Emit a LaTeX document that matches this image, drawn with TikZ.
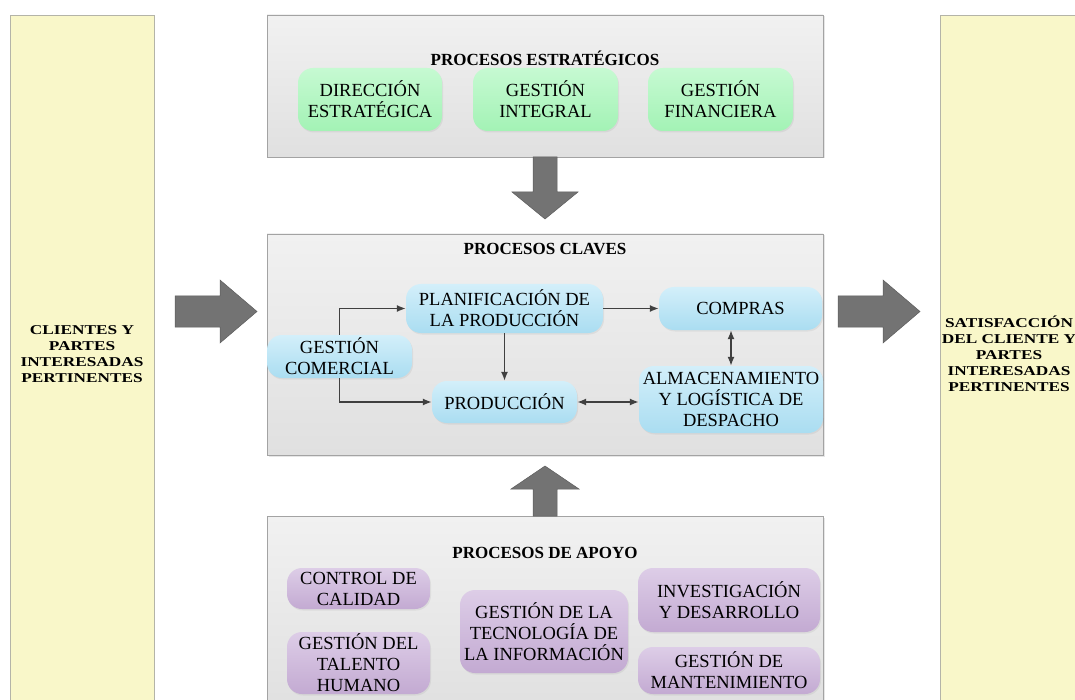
\documentclass[tikz,border=0pt]{standalone}
\usepackage{fontspec}
\setmainfont{Liberation Serif}
\newfontfamily\sidefont[FakeStretch=1.28]{Liberation Serif}
\usepackage{tikz}
\usepackage{xcolor}
\usetikzlibrary{shadows,arrows.meta}
\definecolor{baryellow}{HTML}{F9F7C9}
\definecolor{barline}{HTML}{B4B4A8}
\definecolor{paneltop}{HTML}{F1F1F1}
\definecolor{panelbot}{HTML}{E0E0E0}
\definecolor{panelline}{HTML}{A3A3A3}
\definecolor{greentop}{HTML}{C6FAD2}
\definecolor{greenbot}{HTML}{A3F2B5}
\definecolor{bluetop}{HTML}{D3EFFA}
\definecolor{bluebot}{HTML}{AADDF1}
\definecolor{purpletop}{HTML}{DDCDE7}
\definecolor{purplebot}{HTML}{C3AAD2}
\definecolor{bigarrowgray}{HTML}{737373}
\definecolor{flowgray}{HTML}{404040}

\begin{document}
\begin{tikzpicture}[x=1pt,y=-1pt,
    sidebar/.style={draw=barline,line width=0.9pt,fill=baryellow,minimum width=144pt,minimum height=695pt,
        drop shadow={opacity=0.15,shadow xshift=1pt,shadow yshift=-1pt}},
    sidetext/.style={align=center,font=\sidefont\bfseries\fontsize{13.5}{16}\selectfont},
    panel/.style={draw=panelline,line width=0.9pt,top color=paneltop,bottom color=panelbot,minimum width=556pt,
        drop shadow={opacity=0.2,shadow xshift=1.5pt,shadow yshift=-1.5pt}},
    paneltitle/.style={font=\bfseries\fontsize{17}{19.5}\selectfont},
    proc/.style={rounded corners=15pt,align=center,inner sep=0pt,font=\fontsize{18.5}{21}\selectfont,
        drop shadow={opacity=0.12,shadow xshift=1pt,shadow yshift=-1.5pt}},
    strat/.style={proc,top color=greentop,bottom color=greenbot},
    key/.style={proc,top color=bluetop,bottom color=bluebot},
    support/.style={proc,top color=purpletop,bottom color=purplebot},
    bigarrow/.style={fill=bigarrowgray,draw=bigarrowgray!80!black,line width=0.5pt},
    flow/.style={->,>={Latex[length=9pt,width=7pt]},draw=flowgray,line width=1.4pt}]
    \useasboundingbox (0,0) rectangle (1075,700);

    \node[sidebar] (clientesbar) at (82,362.5) {};
    \node[sidebar] (satisfbar) at (1012,362.5) {};
    \node[sidetext] (clientes) at (82,354) {CLIENTES Y\\PARTES\\INTERESADAS\\PERTINENTES};
    \node[sidetext] (satisf) at (1009,354) {SATISFACCIÓN\\DEL CLIENTE Y\\PARTES\\INTERESADAS\\PERTINENTES};

    \node[panel,minimum height=142pt] (estrategicos) at (545,86) {};
    \node[panel,minimum height=221pt] (claves) at (545,344.5) {};
    \node[panel,minimum height=194pt] (apoyo) at (545,613) {};

    \fill[bigarrow] (533,157) -- (557,157) -- (557,192) -- (578,192) -- (545,219) -- (512,192) -- (533,192) -- cycle;
    \fill[bigarrow] (533,516) -- (557,516) -- (557,489) -- (579,489) -- (545,466) -- (511,489) -- (533,489) -- cycle;
    \fill[bigarrow] (175,296) -- (220,296) -- (220,280) -- (257,311.5) -- (220,343) -- (220,327) -- (175,327) -- cycle;
    \fill[bigarrow] (838,296) -- (883,296) -- (883,280) -- (920,311.5) -- (883,343) -- (883,327) -- (838,327) -- cycle;

    \node[paneltitle] (estrtitle) at (545,58) {PROCESOS ESTRATÉGICOS};
    \node[strat,minimum width=144pt,minimum height=63pt] (direccion) at (370,99.5) {DIRECCIÓN\\ESTRATÉGICA};
    \node[strat,minimum width=145pt,minimum height=63pt] (integral) at (545.5,99.5) {GESTIÓN\\INTEGRAL};
    \node[strat,minimum width=145pt,minimum height=63pt] (financiera) at (720.5,99.5) {GESTIÓN\\FINANCIERA};

    \node[paneltitle] (clavetitle) at (545,249) {PROCESOS CLAVES};
    \node[key,minimum width=197pt,minimum height=49pt] (planif) at (504.5,308.5) {PLANIFICACIÓN DE\\LA PRODUCCIÓN};
    \node[key,minimum width=163pt,minimum height=43pt] (compras) at (740.5,308.5) {COMPRAS};
    \node[key,minimum width=145pt,minimum height=43pt] (gestion) at (339.5,356.5) {GESTIÓN\\COMERCIAL};
    \node[key,minimum width=145pt,minimum height=42pt] (produccion) at (504.5,402) {PRODUCCIÓN};
    \node[key,minimum width=184pt,minimum height=67pt] (almacen) at (731,399.5) {ALMACENAMIENTO\\Y LOGÍSTICA DE\\DESPACHO};

    \draw[flow] (gestion.north) |- (planif.west);
    \draw[flow] (gestion.south) |- (produccion.west);
    \draw[flow] (planif.east) -- (planif.east -| compras.west);
    \draw[flow] (planif.south) -- (produccion.north);
    \draw[flow,<->] (almacen.north |- compras.south) -- (almacen.north);
    \draw[flow,<->] (produccion.east) -- (produccion.east -| almacen.west);

    \node[paneltitle] (apoyotitle) at (545,553) {PROCESOS DE APOYO};
    \node[support,minimum width=143pt,minimum height=41pt] (calidad) at (358.5,588.5) {CONTROL DE\\CALIDAD};
    \node[support,minimum width=143pt,minimum height=62pt] (talento) at (358.5,663) {GESTIÓN DEL\\TALENTO\\HUMANO};
    \node[support,minimum width=168pt,minimum height=83pt] (tecnologia) at (544,631.5) {GESTIÓN DE LA\\TECNOLOGÍA DE\\LA INFORMACIÓN};
    \node[support,minimum width=182pt,minimum height=64pt] (investigacion) at (729,600) {INVESTIGACIÓN\\Y DESARROLLO};
    \node[support,minimum width=182pt,minimum height=47pt] (mantenimiento) at (729,670.5) {GESTIÓN DE\\MANTENIMIENTO};
\end{tikzpicture}
\end{document}
